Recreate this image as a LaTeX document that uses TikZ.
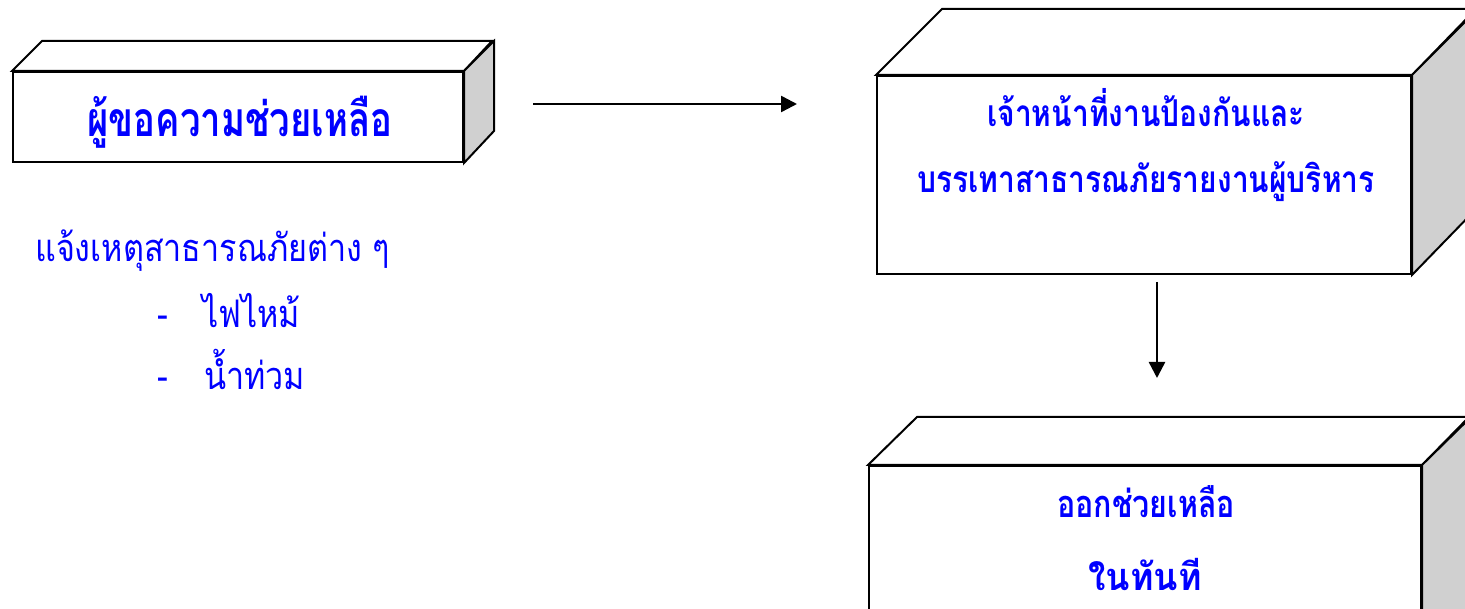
\documentclass[tikz,border=0pt]{standalone}
\usepackage{fontspec}
\newfontfamily\thaiA[Script=Thai,FakeStretch=0.76]{Loma}
\newfontfamily\thaiB[Script=Thai,FakeStretch=0.81]{Loma}
\newfontfamily\thaiC[Script=Thai,FakeStretch=0.80]{Loma}
\newfontfamily\thaiD[Script=Thai,FakeStretch=0.94]{Loma}
\newfontfamily\thaiE[Script=Thai,FakeStretch=0.85]{Loma}
\usetikzlibrary{arrows.meta}
\definecolor{txtblue}{RGB}{0,0,255}
\definecolor{sidegray}{RGB}{208,208,208}
\tikzset{
  front/.style={draw=black, line width=2pt, fill=white, inner sep=0pt},
  face/.style={draw=black, line width=2pt, line join=miter},
  conn/.style={line width=2.5pt, -{Triangle[length=16pt,width=16pt]}},
  boxtext/.style={text=txtblue, inner sep=0pt, anchor=base},
  plaintext/.style={text=txtblue, inner sep=0pt, anchor=base west}
}
\begin{document}
\begin{tikzpicture}[x=1pt,y=-1pt]
\useasboundingbox[fill=white] (0,0) rectangle (1465,609);
% box 1
\node[front, minimum width=450pt, minimum height=90pt] (b1) at (238,117) {};
\draw[face, fill=white] (b1.north west) -- ++(30,-30) -- ++(450,0) -- (b1.north east) -- cycle;
\draw[face, fill=sidegray] (b1.north east) -- ++(30,-30) -- ++(0,90) -- (b1.south east) -- cycle;
\node[boxtext, font=\thaiA\bfseries\fontsize{48}{56}\selectfont] (t1) at (240,137) {ผู้ขอความช่วยเหลือ};
% box 2
\node[front, minimum width=534pt, minimum height=198pt] (b2) at (1144,175) {};
\draw[face, fill=white] (b2.north west) -- ++(66,-66) -- ++(534,0) -- (b2.north east) -- cycle;
\draw[face, fill=sidegray] (b2.north east) -- ++(66,-66) -- ++(0,198) -- (b2.south east) -- cycle;
\node[boxtext, font=\thaiB\bfseries\fontsize{37}{44}\selectfont] (t2a) at (1146,127) {เจ้าหน้าที่งานป้องกันและ};
\node[boxtext, font=\thaiB\bfseries\fontsize{37}{44}\selectfont] (t2b) at (1146,193) {บรรเทาสาธารณภัยรายงานผู้บริหาร};
% box 3
\node[front, minimum width=552pt, minimum height=200pt] (b3) at (1145,566) {};
\draw[face, fill=white] (b3.north west) -- ++(49,-48) -- ++(552,0) -- (b3.north east) -- cycle;
\draw[face, fill=sidegray] (b3.north east) -- ++(49,-48) -- ++(0,200) -- (b3.south east) -- cycle;
\node[boxtext, font=\thaiC\bfseries\fontsize{38}{45}\selectfont] (t3a) at (1146,517) {ออกช่วยเหลือ};
\node[boxtext, font=\thaiD\bfseries\fontsize{38}{45}\selectfont] (t3b) at (1145,590) {ในทันที};
% left text
\node[plaintext, font=\thaiE\fontsize{38}{45}\selectfont] (l1) at (35,262) {แจ้งเหตุสาธารณภัยต่าง ๆ};
\node[plaintext, font=\thaiE\fontsize{38}{45}\selectfont] (d1) at (157,328) {-};
\node[plaintext, font=\thaiE\fontsize{38}{45}\selectfont] (l2) at (202,328) {ไฟไหม้};
\node[plaintext, font=\thaiE\fontsize{38}{45}\selectfont] (d2) at (157,390) {-};
\node[plaintext, font=\thaiE\fontsize{38}{45}\selectfont] (l3) at (204,390) {น้ำท่วม};
% connectors
\coordinate (a1) at (533,104);
\coordinate (a2) at (797,104);
\coordinate (a3) at (1157,282);
\coordinate (a4) at (1157,378);
\draw[conn] (a1) -- (a2);
\draw[conn] (a3) -- (a4);
\end{tikzpicture}
\end{document}
